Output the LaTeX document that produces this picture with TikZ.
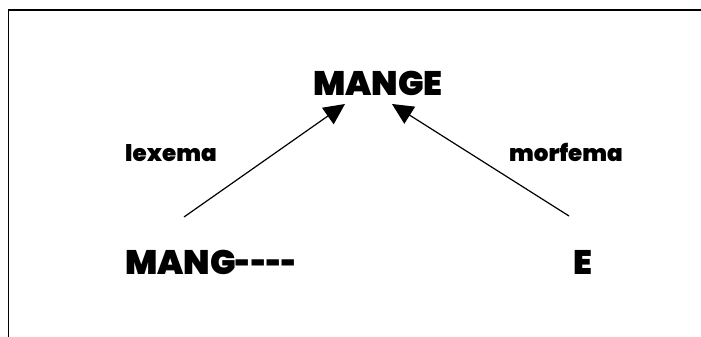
\documentclass[tikz,border=0pt]{standalone}
\usepackage{fontspec}
\usepackage{graphicx}
\setmainfont{Poppins}[UprightFont={* Black},Ligatures=NoCommon]
\usetikzlibrary{arrows.meta}
\newcommand{\narrowdash}{\scalebox{0.78}[1]{-}}
\begin{document}
\begin{tikzpicture}[x=1pt,y=-1pt,
  bigword/.style={inner sep=0pt,font=\fontsize{34}{40}\selectfont},
  smallword/.style={inner sep=0pt,font=\fontsize{23}{28}\selectfont},
  link/.style={line width=1.2pt,-{Triangle[length=21pt,width=20pt]}},
  frameline/.style={line width=1.8pt,line cap=rect}]
\useasboundingbox (0,0) rectangle (701,337);
% frame: top and left edges
\draw[frameline] (8.5,337) -- (8.5,10) -- (701,10);
% words
\node[bigword,anchor=base] (mange) at (378,95) {MANGE};
\node[smallword,anchor=base west] (lexema) at (125,161) {lexema};
\node[smallword,anchor=base] (morfema) at (566,161) {morfema};
\node[bigword,anchor=base west] (stem) at (125,274) {MANG\narrowdash\narrowdash\narrowdash\narrowdash};
\node[bigword,anchor=base] (suffix) at (582.5,274) {E};
% arrow end points
\coordinate (stemtop) at (184,217);
\coordinate (suffixtop) at (569,216);
\coordinate (mangeleft) at (345,104);
\coordinate (mangeright) at (392,104);
\draw[link] (stemtop) -- (mangeleft);
\draw[link] (suffixtop) -- (mangeright);
\end{tikzpicture}
\end{document}
